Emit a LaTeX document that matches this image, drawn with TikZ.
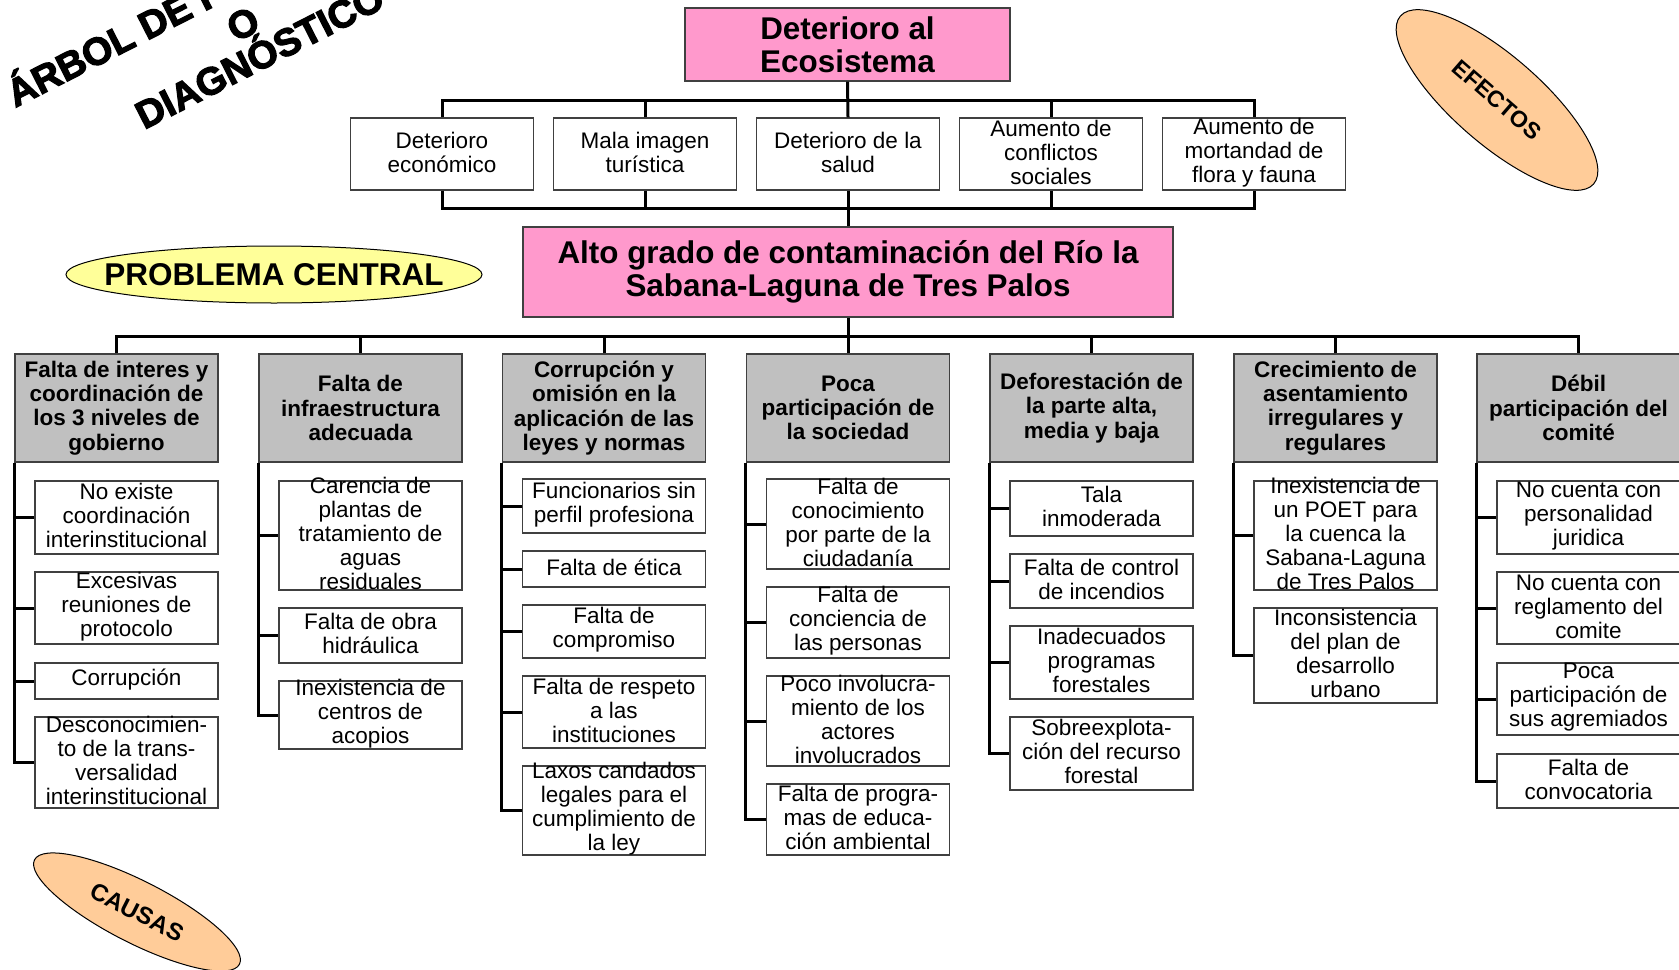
\documentclass[tikz,border=0pt]{standalone}
\usepackage{fontspec}
\setmainfont{Liberation Sans}
\newfontfamily\titlefont[FakeBold=3]{Liberation Sans Bold}
\usetikzlibrary{shapes.geometric}
\definecolor{pinkf}{HTML}{FF99CC}
\definecolor{grayf}{HTML}{C0C0C0}
\definecolor{yellowf}{HTML}{FFFF99}
\definecolor{orangef}{HTML}{FFCC99}
\newcommand\subb[5]{%
  \node[subbox, minimum height={(#4-#3)*0.5pt}] (#1) at (#2,{(#3+#4)/2}) {};
  \node[txt] at (#1.center) {#5};
}
\newcommand\effb[3]{%
  \node[effbox] (#1) at (#2,154) {};
  \node[txt] at (#1.center) {#3};
}
\begin{document}
\begin{tikzpicture}[x=0.5pt,y=-0.5pt,
  conn/.style={line width=1.5pt, draw=black},
  effbox/.style={draw=black!75, line width=0.6pt, fill=white, minimum width=91.5pt, minimum height=36pt, inner sep=0pt},
  subbox/.style={draw=black!75, line width=0.6pt, fill=white, minimum width=91.5pt, inner sep=0pt},
  hdr/.style={draw=black!75, line width=0.6pt, fill=grayf, minimum width=101.5pt, minimum height=54pt, inner sep=0pt, align=center, font=\fontsize{11.25}{12.1}\selectfont\bfseries},
  txt/.style={align=center, inner sep=0pt, yshift=0.8pt, font=\fontsize{11.25}{12}\selectfont},
  pinkbox/.style={draw=black!75, line width=0.6pt, fill=pinkf, inner sep=0pt, align=center, font=\fontsize{15.7}{16.5}\selectfont\bfseries},
  ell/.style={ellipse, draw=black, line width=0.5pt, inner sep=0pt},
  elltxt/.style={inner sep=0pt, font=\bfseries},
  ttl/.style={inner sep=0pt, font=\fontsize{19.3}{21}\selectfont\titlefont}
]
\useasboundingbox (0,0) rectangle (1679,969);
\clip (0,0) rectangle (1679,969);

% title
\node[ttl, rotate=27, anchor=base west] (t1) at (15,108) {ÁRBOL DE P};
\node[ttl, rotate=27] (t2) at (243,24) {O};
\node[ttl, rotate=27, anchor=base west] (t3) at (144,130) {DIAGNÓSTICO};

% ellipses
\node[ell, fill=orangef, minimum width=128pt, minimum height=44pt, rotate=-41] (efe) at (1497,100) {};
\node[elltxt, rotate=-41, font=\fontsize{11.5}{12}\selectfont\bfseries] at (efe.center) {EFECTOS};
\node[ell, fill=orangef, minimum width=115pt, minimum height=31pt, rotate=-27] (cau) at (137,912) {};
\node[elltxt, rotate=-27, font=\fontsize{12}{13}\selectfont\bfseries] at (cau.center) {CAUSAS};
\node[ell, fill=yellowf, minimum width=208pt, minimum height=28.5pt] (pc) at (274,274.5) {};
\node[elltxt, font=\fontsize{15.75}{16}\selectfont\bfseries] at (pc.center) {PROBLEMA CENTRAL};

% top and central boxes
\node[pinkbox, minimum width=162.5pt, minimum height=36.5pt] (top) at (847.5,44.5) {Deterioro al\\Ecosistema};
\node[pinkbox, minimum width=325pt, minimum height=45pt] (core) at (848,272) {Alto grado de contaminación del Río la\\Sabana-Laguna de Tres Palos};

% effects
\effb{e1}{442}{Deterioro\\económico}
\effb{e2}{645}{Mala imagen\\turística}
\effb{e3}{848}{Deterioro de la\\salud}
\effb{e4}{1051}{Aumento de\\conflictos\\sociales}
\effb{e5}{1254}{Aumento de\\mortandad de\\flora y fauna}

\coordinate (lt) at (0,100);
\coordinate (lb) at (0,208);
\coordinate (lc) at (0,336);
\draw[conn] (e1.north) -- (e1.north |- lt) -- (e5.north |- lt) -- (e5.north);
\foreach \e in {e2,e4} \draw[conn] (\e.north) -- (\e.north |- lt);
\draw[conn] (top.south) -- (e3.north);
\draw[conn] (e1.south) -- (e1.south |- lb) -- (e5.south |- lb) -- (e5.south);
\foreach \e in {e2,e4} \draw[conn] (\e.south) -- (\e.south |- lb);
\draw[conn] (e3.south) -- (core.north);

% cause headers
\node[hdr] (h1) at (116.5,408) {Falta de interes y\\coordinación de\\los 3 niveles de\\gobierno};
\node[hdr] (h2) at (360.5,408) {Falta de\\infraestructura\\adecuada};
\node[hdr] (h3) at (604,408) {Corrupción y\\omisión en la\\aplicación de las\\leyes y normas};
\node[hdr] (h4) at (848,408) {Poca\\participación de\\la sociedad};
\node[hdr] (h5) at (1091.5,408) {Deforestación de\\la parte alta,\\media y baja};
\node[hdr] (h6) at (1335.5,408) {Crecimiento de\\asentamiento\\irregulares y\\regulares};
\node[hdr] (h7) at (1578.5,408) {Débil\\participación del\\comité};

\draw[conn] (h1.north) -- (h1.north |- lc) -- (h7.north |- lc) -- (h7.north);
\foreach \h in {h2,h3,h5,h6} \draw[conn] (\h.north) -- (\h.north |- lc);
\draw[conn] (core.south) -- (h4.north);

% column 1
\subb{s11}{126.5}{481}{554}{No existe\\coordinación\\interinstitucional}
\subb{s12}{126.5}{572}{644}{Excesivas\\reuniones de\\protocolo}
\subb{s13}{126.5}{663}{699}{Corrupción}
\subb{s14}{126.5}{717}{808}{Desconocimien-\\to de la trans-\\versalidad\\interinstitucional}
% column 2
\subb{s21}{370.5}{481}{590}{Carencia de\\plantas de\\tratamiento de\\aguas\\residuales}
\subb{s22}{370.5}{608}{663}{Falta de obra\\hidráulica}
\subb{s23}{370.5}{681}{749}{Inexistencia de\\centros de\\acopios}
% column 3
\subb{s31}{614}{479}{533}{Funcionarios sin\\perfil profesiona}
\subb{s32}{614}{551}{587}{Falta de ética}
\subb{s33}{614}{605}{658}{Falta de\\compromiso}
\subb{s34}{614}{676}{748}{Falta de respeto\\a las\\instituciones}
\subb{s35}{614}{766}{855}{Laxos candados\\legales para el\\cumplimiento de\\la ley}
% column 4
\subb{s41}{858}{479}{569}{Falta de\\conocimiento\\por parte de la\\ciudadanía}
\subb{s42}{858}{587}{658}{Falta de\\conciencia de\\las personas}
\subb{s43}{858}{676}{766}{Poco involucra-\\miento de los\\actores\\involucrados}
\subb{s44}{858}{784}{855}{Falta de progra-\\mas de educa-\\ción ambiental}
% column 5
\subb{s51}{1101.5}{481}{536}{Tala\\inmoderada}
\subb{s52}{1101.5}{554}{608}{Falta de control\\de incendios}
\subb{s53}{1101.5}{626}{699}{Inadecuados\\programas\\forestales}
\subb{s54}{1101.5}{717}{790}{Sobreexplota-\\ción del recurso\\forestal}
% column 6
\subb{s61}{1345.5}{481}{590}{Inexistencia de\\un POET para\\la cuenca la\\Sabana-Laguna\\de Tres Palos}
\subb{s62}{1345.5}{608}{703}{Inconsistencia\\del plan de\\desarrollo\\urbano}
% column 7
\subb{s71}{1588.5}{481}{554}{No cuenta con\\personalidad\\juridica}
\subb{s72}{1588.5}{572}{644}{No cuenta con\\reglamento del\\comite}
\subb{s73}{1588.5}{663}{735}{Poca\\participación de\\sus agremiados}
\subb{s74}{1588.5}{754}{808}{Falta de\\convocatoria}

% spines
\draw[conn] (h1.south west) -- (h1.south west |- s14.west) -- (s14.west);
\foreach \s in {s11,s12,s13} \draw[conn] (h1.south west |- \s.west) -- (\s.west);
\draw[conn] (h2.south west) -- (h2.south west |- s23.west) -- (s23.west);
\foreach \s in {s21,s22} \draw[conn] (h2.south west |- \s.west) -- (\s.west);
\draw[conn] (h3.south west) -- (h3.south west |- s35.west) -- (s35.west);
\foreach \s in {s31,s32,s33,s34} \draw[conn] (h3.south west |- \s.west) -- (\s.west);
\draw[conn] (h4.south west) -- (h4.south west |- s44.west) -- (s44.west);
\foreach \s in {s41,s42,s43} \draw[conn] (h4.south west |- \s.west) -- (\s.west);
\draw[conn] (h5.south west) -- (h5.south west |- s54.west) -- (s54.west);
\foreach \s in {s51,s52,s53} \draw[conn] (h5.south west |- \s.west) -- (\s.west);
\draw[conn] (h6.south west) -- (h6.south west |- s62.west) -- (s62.west);
\draw[conn] (h6.south west |- s61.west) -- (s61.west);
\draw[conn] (h7.south west) -- (h7.south west |- s74.west) -- (s74.west);
\foreach \s in {s71,s72,s73} \draw[conn] (h7.south west |- \s.west) -- (\s.west);
\end{tikzpicture}
\end{document}
